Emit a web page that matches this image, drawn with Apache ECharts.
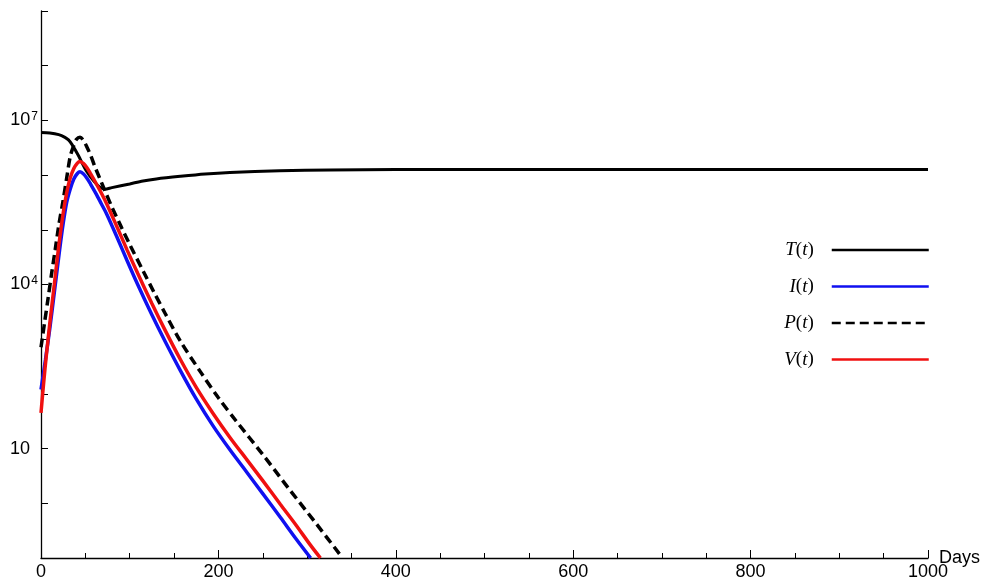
<!DOCTYPE html>
<html>
<head>
<meta charset="utf-8">
<script src="https://cdn.jsdelivr.net/npm/echarts@6/dist/echarts.min.js"></script>
<style>
html,body{margin:0;padding:0;background:#fff;}
#chart{width:986px;height:582px;}
</style>
</head>
<body>
<div id="chart"></div>
<script>
// ---- data ----
const seriesNames = ['T(t)', 'I(t)', 'P(t)', 'V(t)'];
const xTickLabels = [0, 200, 400, 600, 800, 1000];
const yLabelledDecades = [7, 4, 1];

const tDays   = [0, 10, 20, 27, 31, 35, 42, 51, 60, 66, 72, 80, 100, 115, 130, 157, 185, 213, 269, 326, 400, 500, 700, 1000];
const tValues = [6.0e6, 5.9e6, 5.5e6, 4.9e6, 4.4e6, 3.6e6, 2.3e6, 1.2e6, 7.6e5, 6.1e5, 5.5e5, 5.9e5, 6.9e5, 7.8e5, 8.5e5, 9.5e5, 1.05e6, 1.12e6, 1.2e6, 1.24e6, 1.26e6, 1.27e6, 1.27e6, 1.27e6];

const iDays   = [0, 5, 10, 15, 21, 25, 29, 33, 37, 41, 44, 48, 52, 56, 62, 68, 74, 85, 97, 109, 125, 140, 157, 175, 194, 213, 232, 250, 270, 287, 304];
const iValues = [120, 420, 1.6e3, 7.1e3, 4.3e4, 1.3e5, 3.2e5, 5.6e5, 8.5e5, 1.07e6, 1.15e6, 1.05e6, 8.7e5, 6.8e5, 4.6e5, 3.0e5, 1.95e5, 7.8e4, 2.75e4, 1.0e4, 2.8e3, 910, 270, 81, 26, 9.5, 3.7, 1.5, 0.55, 0.23, 0.1];

const pDays   = [0, 4, 8, 12, 16, 20, 25, 29, 33, 37, 40, 44, 48, 52, 56, 61, 66, 72, 80, 90, 100, 116, 128, 140, 157, 180, 200, 220, 250, 280, 310, 340];
const pValues = [710, 2.0e3, 5.6e3, 1.6e4, 4.3e4, 1.2e5, 3.5e5, 8.9e5, 2.2e6, 3.5e6, 4.5e6, 4.9e6, 4.3e6, 3.2e6, 2.3e6, 1.4e6, 8.9e5, 5.2e5, 2.6e5, 1.17e5, 5.4e4, 1.66e4, 6.9e3, 2.95e3, 930, 250, 85, 32, 7.8, 1.8, 0.43, 0.1];

const vDays   = [0, 3, 6, 10, 15, 20, 25, 29, 33, 37, 41, 44, 48, 52, 56, 62, 68, 74, 85, 97, 109, 125, 140, 157, 175, 194, 213, 232, 250, 270, 287, 304, 315];
const vValues = [45, 160, 500, 2.0e3, 1.0e4, 5.0e4, 2.0e5, 4.8e5, 8.9e5, 1.32e6, 1.66e6, 1.78e6, 1.62e6, 1.35e6, 1.05e6, 7.1e5, 4.7e5, 3.0e5, 1.2e5, 4.3e4, 1.6e4, 4.5e3, 1.45e3, 430, 132, 44, 16, 6.3, 2.6, 0.95, 0.41, 0.17, 0.1];

// ---- build ----
const zip = (xs, ys) => xs.map((x, k) => [x, ys[k]]);
const chart = echarts.init(document.getElementById('chart'), null, {renderer: 'canvas'});

const legendRich = {
  i: {fontFamily: 'Liberation Serif', fontStyle: 'italic', fontSize: 19, color: '#000'},
  n: {fontFamily: 'Liberation Serif', fontStyle: 'normal', fontSize: 19, color: '#000'},
  g: {width: 13}
};

function mkSeries(name, data, color, type, width) {
  return {
    name: name, type: 'line', data: data,
    symbol: 'none', showSymbol: false, smooth: 0.3,
    clip: true,
    lineStyle: {color: color, width: width, type: type},
    itemStyle: {color: color},
    emphasis: {disabled: true},
    animation: false
  };
}

const option = {
  animation: false,
  backgroundColor: '#fff',
  grid: {left: 41, right: 58, top: 11, bottom: 24, containLabel: false, outerBoundsMode: 'none'},
  legend: {
    orient: 'vertical',
    right: 56, top: 240.5, padding: 0,
    align: 'right',
    itemWidth: 97, itemHeight: 19, itemGap: 17.5,
    selectedMode: false,
    lineStyle: {width: 2.5},
    itemStyle: {color: 'rgba(0,0,0,0)', borderWidth: 0, opacity: 0},
    data: seriesNames,
    formatter: function (name) {
      return '{i|' + name.charAt(0) + '}{n|(}{i|t}{n|)}{g|}';
    },
    textStyle: {rich: legendRich}
  },
  xAxis: {
    type: 'value', min: 0, max: 1000, interval: 200,
    name: 'Days', nameLocation: 'end', nameGap: 11, nameMoveOverlap: false,
    nameTextStyle: {fontFamily: 'Liberation Sans Narrow, Liberation Sans', fontSize: 18, color: '#000', verticalAlign: 'middle', padding: [4, 0, 0, 0]},
    axisLine: {lineStyle: {color: '#000', width: 1.3}},
    axisTick: {inside: true, length: 8, lineStyle: {color: '#000', width: 1}},
    minorTick: {show: true, splitNumber: 4, length: 5, lineStyle: {color: '#000', width: 1}},
    splitLine: {show: false},
    axisLabel: {
      margin: 5, color: '#000', fontSize: 18,
      fontFamily: 'Liberation Sans Narrow, Liberation Sans',
      formatter: function (v) { return xTickLabels.indexOf(v) >= 0 ? String(v) : ''; }
    }
  },
  yAxis: {
    type: 'log', logBase: 10, min: 0.1, max: 1e9, splitNumber: 10,
    axisLine: {show: true, lineStyle: {color: '#000', width: 1.3}},
    axisTick: {show: true, inside: true, length: 7, lineStyle: {color: '#000', width: 1}},
    splitLine: {show: false},
    axisLabel: {
      margin: 3, color: '#000', fontSize: 18, fontFamily: 'Liberation Sans',
      formatter: function (v) {
        const e = Math.round(Math.log10(v));
        if (yLabelledDecades.indexOf(e) < 0) return '';
        if (e === 1) return '{b|10}{p|}';
        return '{b|10}{s|' + e + '}';
      },
      rich: {
        b: {fontSize: 18, fontFamily: 'Liberation Sans', color: '#000'},
        s: {fontSize: 12, fontFamily: 'Liberation Sans', color: '#000', verticalAlign: 'top', padding: [0, 0, 8, 1]},
        p: {width: 8}
      }
    }
  },
  series: [
    mkSeries(seriesNames[0], zip(tDays, tValues), '#000000', 'solid', 3),
    mkSeries(seriesNames[1], zip(iDays, iValues), '#1010f0', 'solid', 3.5),
    mkSeries(seriesNames[2], zip(pDays, pValues), '#000000', [9, 5], 3.5),
    mkSeries(seriesNames[3], zip(vDays, vValues), '#f01010', 'solid', 3.5)
  ]
};
chart.setOption(option);
</script>
</body>
</html>
